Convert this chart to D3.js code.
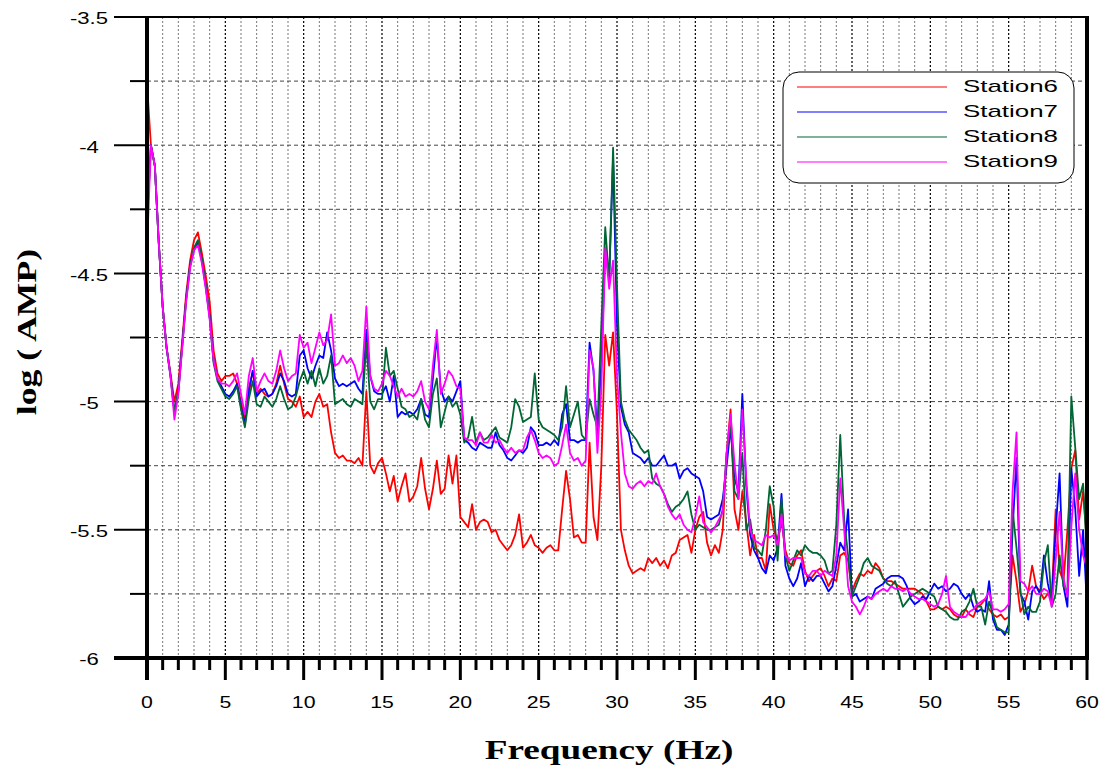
<!DOCTYPE html>
<html><head><meta charset="utf-8">
<script src="https://cdn.jsdelivr.net/npm/d3@7"></script>
<style>body{margin:0;background:#fff}svg{display:block}</style>
</head><body><svg id="c" width="1110" height="774"></svg>
<script>
const freqStep = 0.25;
const freq = d3.range(0, 240 + 1).map(i => i * freqStep);
const seriesNames = ["Station6", "Station7", "Station8", "Station9"];
const seriesColors = ["#ff0000", "#0000ff", "#006633", "#ff00ff"];
const xTicks = [0,5,10,15,20,25,30,35,40,45,50,55,60];
const yTicks = [-3.5,-4,-4.5,-5,-5.5,-6];
const yTickLabels = ["-3.5","-4","-4.5","-5","-5.5","-6"];

const station6 = [
-3.76,-4.00,-4.08,-4.38,-4.63,-4.79,-4.89,-5.00,-4.93,-4.76,-4.58,-4.45,-4.37,-4.34,-4.42,-4.51,-4.61,-4.80,-4.89,-4.92,
-4.90,-4.90,-4.89,-4.93,-5.00,-5.07,-4.97,-4.88,-4.97,-4.95,-4.97,-4.98,-4.97,-4.93,-4.86,-4.93,-4.99,-5.00,-5.02,-4.98,
-5.06,-5.04,-5.06,-5.00,-4.97,-5.02,-5.01,-5.12,-5.20,-5.22,-5.21,-5.23,-5.23,-5.24,-5.22,-5.25,-4.96,-5.25,-5.28,-5.24,
-5.22,-5.28,-5.35,-5.29,-5.39,-5.33,-5.28,-5.39,-5.37,-5.33,-5.22,-5.34,-5.42,-5.34,-5.23,-5.36,-5.34,-5.21,-5.32,-5.21,
-5.45,-5.47,-5.49,-5.40,-5.50,-5.47,-5.46,-5.47,-5.51,-5.50,-5.54,-5.56,-5.58,-5.56,-5.52,-5.44,-5.57,-5.55,-5.52,-5.56,
-5.57,-5.59,-5.57,-5.56,-5.58,-5.58,-5.42,-5.27,-5.38,-5.53,-5.52,-5.55,-5.55,-5.16,-5.45,-5.54,-5.25,-4.74,-4.86,-4.73,
-5.05,-5.50,-5.58,-5.64,-5.67,-5.66,-5.65,-5.66,-5.61,-5.63,-5.61,-5.64,-5.62,-5.65,-5.60,-5.59,-5.54,-5.53,-5.52,-5.59,
-5.50,-5.45,-5.43,-5.55,-5.60,-5.56,-5.59,-5.50,-5.20,-5.03,-5.42,-5.50,-5.35,-5.47,-5.60,-5.52,-5.61,-5.61,-5.66,-5.40,
-5.50,-5.54,-5.47,-5.58,-5.63,-5.64,-5.60,-5.58,-5.66,-5.70,-5.68,-5.66,-5.65,-5.68,-5.72,-5.69,-5.70,-5.60,-5.59,-5.62,
-5.74,-5.70,-5.67,-5.68,-5.66,-5.67,-5.63,-5.65,-5.69,-5.70,-5.70,-5.71,-5.72,-5.73,-5.73,-5.73,-5.73,-5.74,-5.75,-5.78,
-5.81,-5.81,-5.80,-5.81,-5.80,-5.81,-5.83,-5.84,-5.84,-5.81,-5.83,-5.84,-5.80,-5.79,-5.77,-5.81,-5.83,-5.84,-5.83,-5.85,
-5.84,-5.60,-5.70,-5.82,-5.79,-5.74,-5.64,-5.72,-5.74,-5.77,-5.75,-5.76,-5.42,-5.66,-5.70,-5.50,-5.26,-5.19,-5.46,-5.35,-5.55];

const station7 = [
-4.30,-4.00,-4.08,-4.38,-4.63,-4.79,-4.90,-5.04,-4.96,-4.78,-4.60,-4.47,-4.41,-4.38,-4.45,-4.55,-4.67,-4.84,-4.91,-4.94,
-4.97,-4.98,-4.96,-4.93,-5.02,-5.09,-4.95,-4.88,-4.98,-4.96,-4.95,-4.98,-4.97,-4.94,-4.89,-4.92,-4.97,-4.98,-4.97,-4.82,
-4.80,-4.87,-4.91,-4.86,-4.82,-4.83,-4.73,-4.80,-4.91,-4.94,-4.93,-4.94,-4.93,-4.92,-4.95,-4.97,-4.72,-4.90,-4.96,-4.97,
-4.97,-4.94,-5.00,-4.90,-5.06,-5.04,-5.05,-5.04,-5.05,-5.03,-4.99,-5.05,-5.06,-4.91,-4.75,-4.95,-5.00,-4.98,-5.00,-4.96,
-4.92,-5.15,-5.16,-5.18,-5.19,-5.16,-5.17,-5.18,-5.18,-5.12,-5.17,-5.19,-5.22,-5.23,-5.21,-5.19,-5.20,-5.18,-5.10,-5.12,
-5.17,-5.17,-5.16,-5.17,-5.15,-5.17,-5.05,-5.01,-5.15,-5.15,-5.16,-5.15,-5.15,-4.77,-4.88,-5.13,-4.85,-4.42,-4.52,-4.05,
-4.70,-5.02,-5.09,-5.12,-5.20,-5.21,-5.22,-5.24,-5.22,-5.25,-5.25,-5.23,-5.21,-5.25,-5.25,-5.24,-5.30,-5.27,-5.26,-5.28,
-5.29,-5.30,-5.35,-5.45,-5.46,-5.45,-5.44,-5.38,-5.25,-5.10,-5.30,-5.35,-4.97,-5.33,-5.52,-5.58,-5.61,-5.65,-5.67,-5.60,
-5.62,-5.57,-5.36,-5.64,-5.69,-5.72,-5.69,-5.63,-5.72,-5.68,-5.70,-5.68,-5.68,-5.71,-5.74,-5.72,-5.64,-5.55,-5.58,-5.42,
-5.76,-5.75,-5.78,-5.77,-5.76,-5.77,-5.73,-5.72,-5.71,-5.69,-5.68,-5.68,-5.68,-5.69,-5.72,-5.77,-5.79,-5.78,-5.76,-5.77,
-5.74,-5.71,-5.73,-5.72,-5.74,-5.73,-5.71,-5.72,-5.75,-5.77,-5.75,-5.80,-5.82,-5.81,-5.82,-5.70,-5.85,-5.89,-5.89,-5.91,
-5.87,-5.50,-5.22,-5.75,-5.78,-5.85,-5.74,-5.72,-5.75,-5.60,-5.71,-5.78,-5.50,-5.28,-5.72,-5.80,-5.26,-5.42,-5.68,-5.50,-5.80];

const station8 = [
-4.30,-4.00,-4.08,-4.38,-4.63,-4.79,-4.90,-5.04,-4.96,-4.78,-4.60,-4.47,-4.40,-4.37,-4.44,-4.55,-4.67,-4.85,-4.92,-4.95,
-4.98,-4.99,-4.97,-4.94,-5.03,-5.10,-4.99,-4.92,-5.01,-5.02,-4.98,-5.00,-5.02,-4.99,-4.94,-4.99,-5.03,-5.02,-4.98,-4.92,
-4.88,-4.93,-4.88,-4.94,-4.87,-4.93,-4.90,-4.82,-5.01,-5.00,-4.99,-5.01,-5.02,-4.99,-5.00,-5.01,-4.77,-5.00,-5.03,-4.99,
-4.99,-4.79,-4.90,-4.88,-4.95,-5.02,-5.03,-5.06,-5.05,-5.07,-4.99,-5.07,-5.10,-4.97,-4.91,-5.10,-5.04,-4.98,-5.02,-5.00,
-5.05,-5.16,-5.14,-5.06,-5.16,-5.12,-5.15,-5.14,-5.12,-5.10,-5.14,-5.15,-5.16,-5.10,-4.99,-5.02,-5.08,-5.07,-5.06,-4.89,
-5.07,-5.10,-5.11,-5.12,-5.13,-5.15,-5.10,-4.94,-5.10,-5.05,-5.00,-5.13,-5.15,-4.99,-5.05,-5.10,-4.70,-4.32,-4.53,-4.01,
-4.55,-5.00,-5.07,-5.11,-5.13,-5.15,-5.18,-5.20,-5.19,-5.30,-5.32,-5.33,-5.36,-5.40,-5.43,-5.41,-5.40,-5.38,-5.35,-5.44,
-5.50,-5.48,-5.49,-5.50,-5.50,-5.49,-5.48,-5.42,-5.20,-5.08,-5.35,-5.38,-5.20,-5.50,-5.46,-5.57,-5.58,-5.60,-5.50,-5.33,
-5.41,-5.62,-5.38,-5.60,-5.66,-5.62,-5.58,-5.60,-5.56,-5.58,-5.59,-5.59,-5.60,-5.62,-5.67,-5.66,-5.48,-5.13,-5.46,-5.60,
-5.76,-5.72,-5.68,-5.63,-5.61,-5.64,-5.65,-5.66,-5.69,-5.71,-5.72,-5.70,-5.75,-5.80,-5.78,-5.76,-5.75,-5.74,-5.73,-5.74,
-5.75,-5.76,-5.80,-5.81,-5.82,-5.84,-5.85,-5.85,-5.82,-5.81,-5.78,-5.73,-5.80,-5.80,-5.87,-5.78,-5.83,-5.88,-5.89,-5.90,
-5.90,-5.42,-5.57,-5.74,-5.83,-5.80,-5.82,-5.82,-5.78,-5.63,-5.56,-5.80,-5.75,-5.60,-5.72,-5.74,-4.98,-5.18,-5.38,-5.32,-5.60];

const station9 = [
-4.41,-4.00,-4.08,-4.38,-4.63,-4.79,-4.90,-5.07,-4.97,-4.79,-4.61,-4.48,-4.41,-4.39,-4.46,-4.56,-4.68,-4.84,-4.91,-4.93,
-4.93,-4.94,-4.92,-4.89,-4.97,-5.05,-4.90,-4.83,-4.96,-4.92,-4.89,-4.92,-4.93,-4.88,-4.80,-4.87,-4.92,-4.90,-4.89,-4.74,
-4.79,-4.77,-4.85,-4.79,-4.73,-4.78,-4.76,-4.66,-4.86,-4.85,-4.82,-4.85,-4.83,-4.86,-4.92,-4.88,-4.63,-4.90,-4.95,-4.96,
-4.93,-4.88,-4.90,-4.94,-4.98,-4.95,-4.98,-4.97,-4.98,-4.96,-4.92,-5.00,-5.03,-4.86,-4.72,-4.97,-4.93,-4.88,-4.90,-4.94,
-4.95,-5.14,-5.15,-5.15,-5.17,-5.12,-5.16,-5.16,-5.13,-5.16,-5.15,-5.18,-5.20,-5.18,-5.20,-5.19,-5.19,-5.14,-5.11,-5.15,
-5.20,-5.22,-5.21,-5.22,-5.25,-5.24,-5.17,-5.09,-5.20,-5.23,-5.22,-5.25,-5.23,-4.80,-4.87,-5.20,-4.95,-4.40,-4.56,-4.45,
-4.90,-5.12,-5.28,-5.33,-5.34,-5.32,-5.31,-5.33,-5.31,-5.32,-5.28,-5.33,-5.36,-5.41,-5.44,-5.46,-5.44,-5.48,-5.50,-5.51,
-5.45,-5.37,-5.47,-5.49,-5.51,-5.49,-5.46,-5.43,-5.20,-5.05,-5.24,-5.38,-5.03,-5.30,-5.50,-5.54,-5.55,-5.56,-5.52,-5.53,
-5.52,-5.56,-5.44,-5.60,-5.62,-5.61,-5.61,-5.61,-5.67,-5.68,-5.66,-5.66,-5.68,-5.66,-5.67,-5.68,-5.60,-5.30,-5.50,-5.72,
-5.78,-5.80,-5.83,-5.80,-5.76,-5.77,-5.75,-5.74,-5.73,-5.74,-5.72,-5.73,-5.73,-5.74,-5.73,-5.75,-5.76,-5.77,-5.77,-5.78,
-5.79,-5.80,-5.79,-5.75,-5.68,-5.80,-5.82,-5.83,-5.84,-5.84,-5.82,-5.81,-5.79,-5.78,-5.77,-5.74,-5.81,-5.81,-5.82,-5.81,
-5.79,-5.35,-5.12,-5.70,-5.71,-5.74,-5.72,-5.75,-5.75,-5.73,-5.74,-5.80,-5.62,-5.43,-5.69,-5.76,-5.49,-5.28,-5.50,-5.60,-5.65];

const seriesValues = [station6, station7, station8, station9];

const svg = d3.select("#c");
const L = 147, R = 1087, T = 17, B = 658;
const x = d3.scaleLinear().domain([0, 60]).range([L, R]);
const y = d3.scaleLinear().domain([-3.5, -6]).range([T, B]);

// stretch text horizontally (the original uses wide glyphs)
function stretch(sel, k) {
  sel.each(function() {
    const w = this.getComputedTextLength();
    d3.select(this).attr("textLength", w * k).attr("lengthAdjust", "spacingAndGlyphs");
  });
}

// grid
const g = svg.append("g");
const minorX = d3.range(1, 60).filter(v => v % 5 !== 0);
const majorX = d3.range(5, 60, 5);
g.selectAll(".vmin").data(minorX).join("line")
  .attr("x1", d => x(d)).attr("x2", d => x(d)).attr("y1", T).attr("y2", B)
  .attr("stroke", "#777").attr("stroke-width", 1).attr("stroke-dasharray", "2,2");
g.selectAll(".vmaj").data(majorX).join("line")
  .attr("x1", d => x(d)).attr("x2", d => x(d)).attr("y1", T).attr("y2", B)
  .attr("stroke", "#000").attr("stroke-width", 1.2).attr("stroke-dasharray", "2,2");
const hGrid = d3.range(1, 10).map(i => -3.5 - i * 0.25);
g.selectAll(".h").data(hGrid).join("line")
  .attr("x1", L).attr("x2", R).attr("y1", d => y(d)).attr("y2", d => y(d))
  .attr("stroke", "#444").attr("stroke-width", 1).attr("stroke-dasharray", "4,3");

// lines
const line = d3.line().x((d, i) => x(freq[i])).y(d => y(d));
seriesValues.forEach((vals, k) => {
  svg.append("path").datum(vals).attr("d", line)
    .attr("fill", "none").attr("stroke", seriesColors[k]).attr("stroke-width", 1.8)
    .attr("stroke-linejoin", "round");
});

// frame
svg.append("line").attr("x1", L - 33).attr("x2", R).attr("y1", T).attr("y2", T).attr("stroke", "#000").attr("stroke-width", 2);
svg.append("line").attr("x1", R).attr("x2", R).attr("y1", T - 1).attr("y2", B + 2).attr("stroke", "#000").attr("stroke-width", 4);
svg.append("line").attr("x1", L).attr("x2", L).attr("y1", T - 1).attr("y2", B + 22).attr("stroke", "#000").attr("stroke-width", 4);
svg.append("line").attr("x1", L - 33).attr("x2", R + 2).attr("y1", B).attr("y2", B).attr("stroke", "#000").attr("stroke-width", 4);

// y ticks
const yMinor = d3.range(0, 5).map(i => -3.75 - i * 0.5);
svg.selectAll(".ytm").data(yTicks).join("line")
  .attr("x1", L - 33).attr("x2", L).attr("y1", d => y(d)).attr("y2", d => y(d))
  .attr("stroke", "#000").attr("stroke-width", 2);
svg.selectAll(".ytn").data(yMinor).join("line")
  .attr("x1", L - 17).attr("x2", L).attr("y1", d => y(d)).attr("y2", d => y(d))
  .attr("stroke", "#000").attr("stroke-width", 2);
svg.selectAll(".ytl").data(yTicks).join("text")
  .attr("x", 89).attr("y", d => y(d) + 3).attr("text-anchor", "middle").attr("dominant-baseline", "middle")
  .attr("font-family", "Liberation Sans, Arial, sans-serif").attr("font-size", 17)
  .text((d, i) => yTickLabels[i]).call(stretch, 1.3);

// x ticks
svg.selectAll(".xtn").data(d3.range(1, 61).filter(v => v % 5 !== 0)).join("line")
  .attr("x1", d => x(d)).attr("x2", d => x(d)).attr("y1", B).attr("y2", B + 12)
  .attr("stroke", "#000").attr("stroke-width", 3);
svg.selectAll(".xtm").data(xTicks).join("line")
  .attr("x1", d => x(d)).attr("x2", d => x(d)).attr("y1", B).attr("y2", B + 22)
  .attr("stroke", "#000").attr("stroke-width", 3);
svg.selectAll(".xtl").data(xTicks).join("text")
  .attr("x", d => x(d)).attr("y", 704).attr("text-anchor", "middle").attr("dominant-baseline", "middle")
  .attr("font-family", "Liberation Sans, Arial, sans-serif").attr("font-size", 17)
  .text(d => d).call(stretch, 1.25);

// axis titles
svg.append("text").attr("x", 609).attr("y", 753).attr("text-anchor", "middle").attr("dominant-baseline", "middle")
  .attr("font-family", "Liberation Serif, Times New Roman, serif").attr("font-weight", "bold").attr("font-size", 27)
  .text("Frequency (Hz)").call(stretch, 1.38);
svg.append("text").attr("transform", "translate(30,332) rotate(-90)").attr("text-anchor", "middle").attr("dominant-baseline", "middle")
  .attr("font-family", "Liberation Serif, Times New Roman, serif").attr("font-weight", "bold").attr("font-size", 27)
  .text("log ( AMP)").call(stretch, 1.32);

// legend
const lg = svg.append("g");
lg.append("rect").attr("x", 783).attr("y", 72).attr("width", 291).attr("height", 111).attr("rx", 16).attr("ry", 16)
  .attr("fill", "#fff").attr("stroke", "#000").attr("stroke-width", 1);
seriesNames.forEach((n, k) => {
  const yy = 87 + k * 25;
  lg.append("line").attr("x1", 797).attr("x2", 947).attr("y1", yy).attr("y2", yy)
    .attr("stroke", seriesColors[k]).attr("stroke-width", 1.2);
  lg.append("text").attr("x", 963).attr("y", yy + 1).attr("dominant-baseline", "middle")
    .attr("font-family", "Liberation Sans, Arial, sans-serif").attr("font-size", 17)
    .attr("textLength", 95).attr("lengthAdjust", "spacingAndGlyphs").text(n);
});
</script></body></html>
